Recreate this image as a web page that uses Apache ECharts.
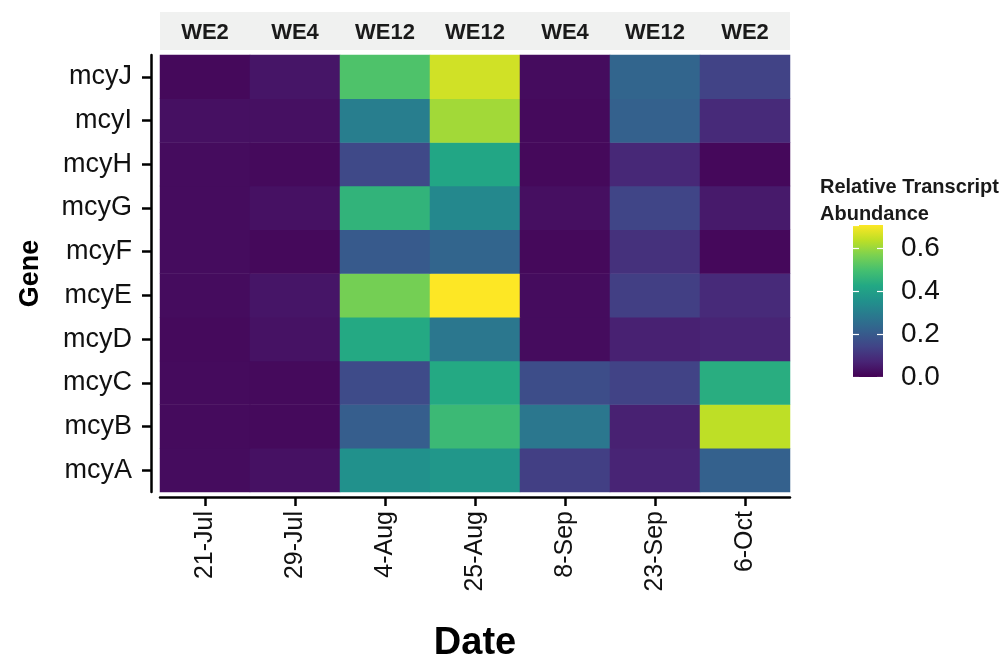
<!DOCTYPE html>
<html>
<head>
<meta charset="utf-8">
<script src="https://cdn.jsdelivr.net/npm/echarts@6/dist/echarts.min.js"></script>
<style>
html,body{margin:0;padding:0;background:#fff;}
#chart{width:1003px;height:660px;}
</style>
</head>
<body>
<div id="chart"></div>
<script>
// ---- data ----
var dates = ['21-Jul', '29-Jul', '4-Aug', '25-Aug', '8-Sep', '23-Sep', '6-Oct'];
var sites = ['WE2', 'WE4', 'WE12', 'WE12', 'WE4', 'WE12', 'WE2'];
var genes = ['mcyA', 'mcyB', 'mcyC', 'mcyD', 'mcyE', 'mcyF', 'mcyG', 'mcyH', 'mcyI', 'mcyJ'];
// values per gene, in date order
var mcyA = [0.022, 0.032, 0.355, 0.375, 0.13, 0.07, 0.22];
var mcyB = [0.02, 0.018, 0.21, 0.48, 0.28, 0.065, 0.64];
var mcyC = [0.02, 0.018, 0.16, 0.43, 0.165, 0.14, 0.44];
var mcyD = [0.018, 0.035, 0.43, 0.28, 0.022, 0.065, 0.07];
var mcyE = [0.022, 0.04, 0.56, 0.71, 0.022, 0.13, 0.085];
var mcyF = [0.022, 0.016, 0.20, 0.23, 0.016, 0.10, 0.015];
var mcyG = [0.022, 0.032, 0.46, 0.33, 0.028, 0.145, 0.05];
var mcyH = [0.022, 0.018, 0.155, 0.42, 0.016, 0.08, 0.015];
var mcyI = [0.03, 0.03, 0.30, 0.61, 0.018, 0.22, 0.085];
var mcyJ = [0.016, 0.04, 0.51, 0.66, 0.022, 0.23, 0.14];
var legendTicks = [0.0, 0.2, 0.4, 0.6];
var scaleMax = 0.71;

var geneValues = [mcyA, mcyB, mcyC, mcyD, mcyE, mcyF, mcyG, mcyH, mcyI, mcyJ];
var viridis = ['#440154', '#482475', '#414487', '#355f8d', '#2a788e', '#21918c',
               '#22a884', '#44bf70', '#7ad151', '#bddf26', '#fde725'];

var heatData = [];
geneValues.forEach(function (row, gi) {
  row.forEach(function (v, di) { heatData.push([di, gi, v]); });
});

var stops = viridis.map(function (c, i) { return {offset: i / (viridis.length - 1), color: c}; });

var FONT = 'Liberation Sans, Arial, sans-serif';

var chart = echarts.init(document.getElementById('chart'), null, {renderer: 'canvas'});
chart.setOption({
  animation: false,
  backgroundColor: '#ffffff',
  title: {
    text: 'Relative Transcript\nAbundance',
    left: 815, top: 169,
    textStyle: {fontFamily: FONT, fontWeight: 'bold', fontSize: 20, lineHeight: 27, color: '#1a1a1a'}
  },
  grid: [
    {left: 160, right: 213, top: 55, bottom: 168, outerBoundsMode: 'none', containLabel: false},
    {left: 160, right: 213, top: 12, height: 38, show: true, backgroundColor: '#f0f1f0', borderWidth: 0, outerBoundsMode: 'none'},
    {left: 853, width: 30, top: 225, height: 152, outerBoundsMode: 'none'}
  ],
  xAxis: [
    {
      gridIndex: 0, type: 'category', data: dates, offset: 5,
      name: 'Date', nameLocation: 'middle', nameGap: 128,
      nameTextStyle: {fontFamily: FONT, fontWeight: 'bold', fontSize: 38, color: '#000'},
      axisLine: {show: true, lineStyle: {color: '#000', width: 2.5}},
      axisTick: {show: true, alignWithLabel: true, length: 9, lineStyle: {color: '#000', width: 2.5}},
      axisLabel: {rotate: 90, fontFamily: FONT, fontSize: 25, color: '#111', margin: 14},
      splitLine: {show: false}
    },
    {
      gridIndex: 1, type: 'category', data: sites,
      axisLine: {show: false}, axisTick: {show: false},
      axisLabel: {inside: true, margin: 6, fontFamily: FONT, fontWeight: 'bold', fontSize: 22, color: '#1a1a1a'}
    },
    {gridIndex: 2, type: 'category', data: ['bar'], show: false}
  ],
  yAxis: [
    {
      gridIndex: 0, type: 'category', data: genes, offset: 9,
      name: 'Gene', nameLocation: 'middle', nameGap: 107,
      nameTextStyle: {fontFamily: FONT, fontWeight: 'bold', fontSize: 27, color: '#000'},
      axisLine: {show: true, lineStyle: {color: '#000', width: 2.5}},
      axisTick: {show: true, alignWithLabel: true, length: 9, lineStyle: {color: '#000', width: 2.5}},
      axisLabel: {fontFamily: FONT, fontSize: 27, color: '#111', margin: 19},
      splitLine: {show: false}
    },
    {gridIndex: 1, type: 'value', show: false},
    {
      gridIndex: 2, type: 'value', min: 0, max: scaleMax, interval: 0.2, position: 'right', z: 10,
      axisLine: {show: false},
      axisTick: {show: true, inside: true, length: 6, lineStyle: {color: '#ffffff', width: 1.2}},
      axisLabel: {showMaxLabel: false, margin: 18, fontFamily: FONT, fontSize: 28, color: '#111',
        formatter: function (v) { return legendTicks.indexOf(Math.round(v * 10) / 10) >= 0 ? v.toFixed(1) : ''; }},
      splitLine: {show: false}
    },
    {
      gridIndex: 2, type: 'value', min: 0, max: scaleMax, interval: 0.2, position: 'left', z: 10,
      axisLine: {show: false},
      axisTick: {show: true, inside: true, length: 6, lineStyle: {color: '#ffffff', width: 1.2}},
      axisLabel: {show: false}, splitLine: {show: false}
    }
  ],
  visualMap: {
    show: false, type: 'continuous', min: 0, max: scaleMax, seriesIndex: 0,
    inRange: {color: viridis}
  },
  series: [
    {
      type: 'heatmap', xAxisIndex: 0, yAxisIndex: 0, data: heatData,
      itemStyle: {borderWidth: 0}, emphasis: {disabled: true}
    },
    {
      type: 'bar', xAxisIndex: 2, yAxisIndex: 2, data: [scaleMax], barWidth: '100%',
      itemStyle: {color: {type: 'linear', x: 0, y: 1, x2: 0, y2: 0, colorStops: stops}},
      silent: true
    }
  ]
});
</script>
</body>
</html>
